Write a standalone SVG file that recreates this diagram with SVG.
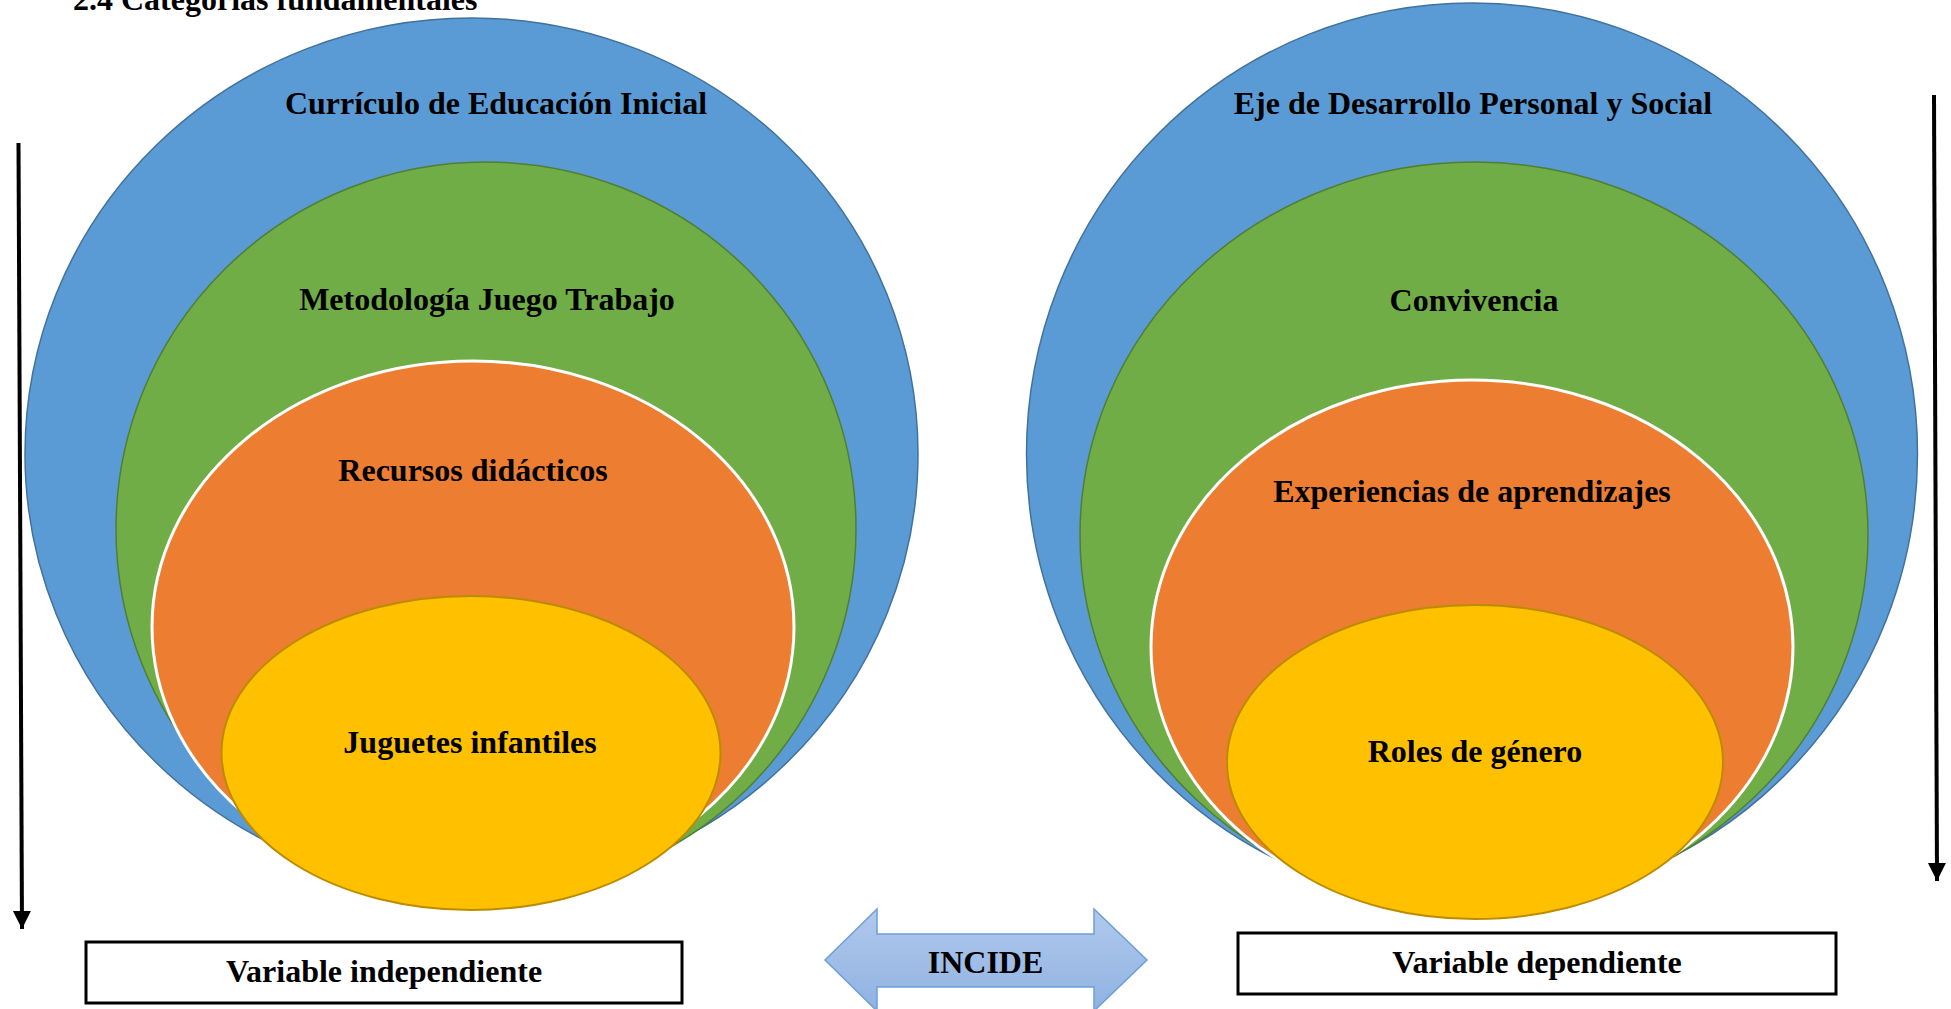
<svg xmlns="http://www.w3.org/2000/svg" width="1951" height="1009" viewBox="0 0 1951 1009">
<defs>
<style>
.t{font-family:"Liberation Serif","Times New Roman",serif;font-weight:bold;font-size:32px;fill:#000;text-anchor:middle}
.blue{fill:#5b9bd5;stroke:#41719c;stroke-width:1.5}
.green{fill:#70ad47;stroke:#507e32;stroke-width:1.5}
.orange{fill:#ed7d31;stroke:#ffffff;stroke-width:3}
.yellow{fill:#ffc000;stroke:#bc8c00;stroke-width:2}
.box{fill:#ffffff;stroke:#000;stroke-width:3}
.arr{stroke:#000;stroke-width:4;fill:none}
</style>
<linearGradient id="ag" x1="0" y1="0" x2="0" y2="1">
<stop offset="0" stop-color="#b1c9ec"/>
<stop offset="1" stop-color="#8fb2e2"/>
</linearGradient>
<marker id="ah" markerUnits="userSpaceOnUse" markerWidth="20" markerHeight="22" refX="18" refY="9" orient="auto">
<path d="M0,0 L18,9 L0,18 Z" fill="#000"/>
</marker>
</defs>
<text class="t" x="73" y="10" style="text-anchor:start">2.4 Categorías fundamentales</text>
<g id="left-blue"><ellipse class="blue" cx="471.5" cy="454" rx="446.5" ry="436"/><text class="t" x="496" y="114">Currículo de Educación Inicial</text></g>
<g id="left-green"><ellipse class="green" cx="486" cy="529" rx="370" ry="367"/><text class="t" x="487" y="310">Metodología Juego Trabajo</text></g>
<g id="left-orange"><ellipse class="orange" cx="473" cy="627" rx="321" ry="266"/><text class="t" x="473" y="481">Recursos didácticos</text></g>
<g id="left-yellow"><ellipse class="yellow" cx="471" cy="753" rx="249.5" ry="157"/><text class="t" x="470" y="753">Juguetes infantiles</text></g>
<g id="right-blue"><ellipse class="blue" cx="1472" cy="454" rx="445.5" ry="451"/><text class="t" x="1473" y="114">Eje de Desarrollo Personal y Social</text></g>
<g id="right-green"><ellipse class="green" cx="1474" cy="535" rx="394" ry="373"/><text class="t" x="1474" y="311">Convivencia</text></g>
<g id="right-orange"><ellipse class="orange" cx="1472" cy="647" rx="321" ry="267"/><text class="t" x="1472" y="502">Experiencias de aprendizajes</text></g>
<g id="right-yellow"><ellipse class="yellow" cx="1475" cy="762" rx="248" ry="157"/><text class="t" x="1475" y="762">Roles de género</text></g>
<g id="box-indep"><rect class="box" x="86" y="942" width="596" height="61"/><text class="t" x="384" y="982">Variable independiente</text></g>
<g id="box-dep"><rect class="box" x="1238" y="933" width="598" height="61"/><text class="t" x="1537" y="973">Variable dependiente</text></g>
<g id="incide"><path d="M825,960 L877,909 L877,934 L1094,934 L1094,909 L1147,960 L1094,1011 L1094,987 L877,987 L877,1011 Z" fill="url(#ag)" stroke="#6d9eda" stroke-width="1.5"/><text class="t" x="985.5" y="973">INCIDE</text></g>
<g id="connectors">
<line class="arr" x1="18.5" y1="143" x2="22" y2="929" marker-end="url(#ah)"/>
<line class="arr" x1="1934" y1="95" x2="1937" y2="881" marker-end="url(#ah)"/>
</g>
</svg>
